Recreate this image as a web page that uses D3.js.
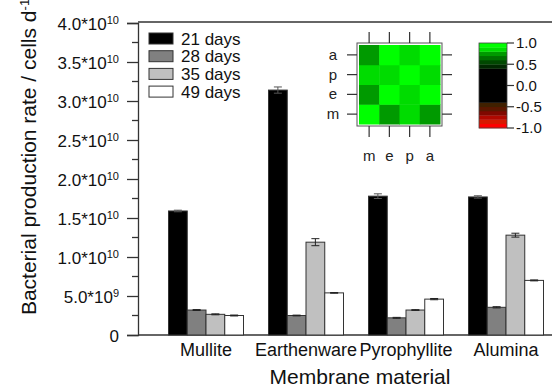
<!DOCTYPE html>
<html>
<head>
<meta charset="utf-8">
<script src="https://cdn.jsdelivr.net/npm/d3@7"></script>
<style>
  body { margin: 0; background: #fff; }
  svg { font-family: "Liberation Sans", Arial, sans-serif; }
</style>
</head>
<body>
<svg id="chart" width="552" height="392"></svg>
<script>
// bar data (cells per day)
var materials = ["Mullite", "Earthenware", "Pyrophyllite", "Alumina"];
var days = ["21 days", "28 days", "35 days", "49 days"];
var day21 = [1.59e10, 3.14e10, 1.78e10, 1.77e10];
var day28 = [0.32e10, 0.25e10, 0.22e10, 0.355e10];
var day35 = [0.265e10, 1.19e10, 0.32e10, 1.28e10];
var day49 = [0.25e10, 0.54e10, 0.46e10, 0.70e10];
var err21 = [0.01e10, 0.04e10, 0.03e10, 0.015e10];
var err28 = [0.006e10, 0.005e10, 0.006e10, 0.008e10];
var err35 = [0.006e10, 0.045e10, 0.005e10, 0.025e10];
var err49 = [0.006e10, 0.004e10, 0.008e10, 0.006e10];
var yTicks = [0, 5e9, 1e10, 1.5e10, 2e10, 2.5e10, 3e10, 3.5e10, 4e10];

// inset correlation matrix
var corrVars = ["m", "e", "p", "a"];
var corrM = [1.00, 0.75, 0.85, 0.75];
var corrE = [0.75, 1.00, 0.85, 0.95];
var corrP = [0.85, 0.85, 1.00, 0.85];
var corrA = [0.75, 0.95, 0.85, 1.00];
var barTicks = [1.0, 0.5, 0.0, -0.5, -1.0];

var series = [day21, day28, day35, day49];
var errs = [err21, err28, err35, err49];
var fills = ["#000000", "#808080", "#c0c0c0", "#ffffff"];
var axisCol = "#333";

var svg = d3.select("#chart");

var plotL = 138, plotT = 23, plotB = 335, plotR = 552;

var x0 = d3.scaleBand().domain(materials).range([156, 556])
    .paddingInner(0.25).paddingOuter(0.125);
var x1 = d3.scaleBand().domain(days).range([0, x0.bandwidth()]);
var y = d3.scaleLinear().domain([0, 4e10]).range([plotB, plotT]);

// frame lines
svg.append("line").attr("x1", plotL).attr("x2", plotR).attr("y1", y(4e10) - 1).attr("y2", y(4e10) - 1)
  .attr("stroke", axisCol).attr("stroke-width", 1.3);
svg.append("line").attr("x1", plotL).attr("x2", plotR).attr("y1", plotB).attr("y2", plotB)
  .attr("stroke", axisCol).attr("stroke-width", 1.3);

// y axis
var yAxis = svg.append("g").attr("transform", "translate(" + plotL + ",0)")
  .call(d3.axisLeft(y).tickValues(yTicks).tickSize(11).tickPadding(7).tickFormat(""));
yAxis.select(".domain").attr("stroke", axisCol).attr("stroke-width", 1.3);
yAxis.selectAll(".tick line").attr("stroke", axisCol).attr("stroke-width", 1.3);

// minor ticks
svg.append("g").selectAll("line")
  .data(d3.range(2.5e9, 4e10, 5e9))
  .enter().append("line")
    .attr("x1", plotL - 6).attr("x2", plotL)
    .attr("y1", function(d) { return y(d); }).attr("y2", function(d) { return y(d); })
    .attr("stroke", axisCol).attr("stroke-width", 1.3);

// y tick labels with superscripts
yAxis.selectAll(".tick").each(function(d) {
  var t = d3.select(this).append("text")
    .attr("x", -19).attr("dy", "0.36em")
    .attr("text-anchor", "end")
    .attr("fill", "#111")
    .style("font-size", "17px");
  if (d === 0) { t.text("0"); return; }
  var e = Math.floor(Math.log10(d) + 1e-9);
  var m = d / Math.pow(10, e);
  t.append("tspan").text(m.toFixed(1) + "*10");
  t.append("tspan").attr("dy", "-0.55em").style("font-size", "11px").text(e);
});

// bars
var groups = svg.append("g").selectAll("g")
  .data(materials)
  .enter().append("g")
    .attr("transform", function(d) { return "translate(" + x0(d) + ",0)"; });

groups.each(function(mat, i) {
  var g = d3.select(this);
  days.forEach(function(day, k) {
    var v = series[k][i], e = errs[k][i];
    g.append("rect")
      .attr("x", x1(day)).attr("width", x1.bandwidth())
      .attr("y", y(v)).attr("height", plotB - y(v))
      .attr("fill", fills[k])
      .attr("stroke", "#333").attr("stroke-width", 1);
    var cx = x1(day) + x1.bandwidth() / 2;
    var ec = k === 0 ? "#555" : "#222";
    g.append("line").attr("x1", cx).attr("x2", cx).attr("y1", y(v + e)).attr("y2", y(v - e))
      .attr("stroke", ec).attr("stroke-width", 1);
    [v + e, v - e].forEach(function(w) {
      g.append("line").attr("x1", cx - 4).attr("x2", cx + 4).attr("y1", y(w)).attr("y2", y(w))
        .attr("stroke", ec).attr("stroke-width", 1);
    });
  });
});

// x labels
svg.append("g").selectAll("text")
  .data(materials)
  .enter().append("text")
    .attr("x", function(d) { return x0(d) + x0.bandwidth() / 2; })
    .attr("y", 356)
    .attr("text-anchor", "middle")
    .attr("fill", "#111")
    .style("font-size", "18px")
    .text(function(d) { return d; });

svg.append("text")
  .attr("x", 360).attr("y", 384)
  .attr("text-anchor", "middle")
  .attr("fill", "#111")
  .style("font-size", "21px")
  .text("Membrane material");

// y title
var yt = svg.append("text")
  .attr("transform", "translate(36,157) rotate(-90)")
  .attr("text-anchor", "middle")
  .attr("fill", "#111")
  .style("font-size", "21px");
yt.append("tspan").text("Bacterial production rate / cells d");
yt.append("tspan").attr("dy", "-0.55em").style("font-size", "13px").text("-1");

// legend
var leg = svg.append("g").attr("transform", "translate(149,33)");
days.forEach(function(d, k) {
  var row = leg.append("g").attr("transform", "translate(0," + (k * 17.7) + ")");
  row.append("rect").attr("width", 24).attr("height", 11)
    .attr("fill", fills[k]).attr("stroke", "#333").attr("stroke-width", 1);
  row.append("text").attr("x", 32).attr("y", 5.5).attr("dy", "0.36em")
    .attr("fill", "#111").style("font-size", "17px").text(d);
});

// inset heatmap
var corr = [corrM, corrE, corrP, corrA];
var bandEdges = [-0.9, -0.8, -0.7, -0.6, -0.5, -0.4, 0.4, 0.5, 0.6, 0.7, 0.8, 0.9];
var colorBands = d3.scaleThreshold()
  .domain(bandEdges)
  .range(["#ff0000", "#d81800", "#b00800", "#800800", "#5a1800", "#402000", "#000000",
          "#002800", "#004800", "#007000", "#009a00", "#00dc00", "#00ff00"]);

var hx = d3.scaleBand().domain(corrVars).range([359, 440]);
var hy = d3.scaleBand().domain(corrVars.slice().reverse()).range([45, 124]);
var hm = svg.append("g");
hm.append("rect").attr("x", 357).attr("y", 43).attr("width", 85).attr("height", 83)
  .attr("fill", "#fff").attr("stroke", "#555").attr("stroke-width", 1);
corrVars.forEach(function(r, i) {
  corrVars.forEach(function(c, j) {
    hm.append("rect")
      .attr("x", hx(c)).attr("y", hy(r))
      .attr("width", hx.bandwidth() + 0.5).attr("height", hy.bandwidth() + 0.5)
      .attr("fill", colorBands(corr[i][j]));
  });
});
corrVars.forEach(function(v) {
  var cx = hx(v) + hx.bandwidth() / 2, cy = hy(v) + hy.bandwidth() / 2;
  hm.append("line").attr("x1", cx).attr("x2", cx).attr("y1", 43).attr("y2", 32).attr("stroke", axisCol).attr("stroke-width", 1.2);
  hm.append("line").attr("x1", cx).attr("x2", cx).attr("y1", 126).attr("y2", 137).attr("stroke", axisCol).attr("stroke-width", 1.2);
  hm.append("line").attr("x1", 357).attr("x2", 347).attr("y1", cy).attr("y2", cy).attr("stroke", axisCol).attr("stroke-width", 1.2);
  hm.append("line").attr("x1", 442).attr("x2", 452).attr("y1", cy).attr("y2", cy).attr("stroke", axisCol).attr("stroke-width", 1.2);
  hm.append("text").attr("x", 333).attr("y", cy).attr("dy", "0.33em").attr("text-anchor", "middle")
    .attr("fill", "#222").style("font-size", "15px").text(v);
  hm.append("text").attr("x", cx).attr("y", 161).attr("text-anchor", "middle")
    .attr("fill", "#222").style("font-size", "15px").text(v);
});

// colour bar: one rect per band between thresholds
var cb = d3.scaleLinear().domain([-1, 1]).range([128, 43]);
var edges = [-1].concat(bandEdges, [1]);
var cbg = svg.append("g");
for (var b = 0; b < edges.length - 1; b++) {
  var lo = edges[b], hi = edges[b + 1];
  cbg.append("rect").attr("x", 479).attr("width", 28)
    .attr("y", cb(hi)).attr("height", cb(lo) - cb(hi) + 0.3)
    .attr("fill", colorBands((lo + hi) / 2));
}
cbg.append("rect").attr("x", 479).attr("y", 43).attr("width", 28).attr("height", 85)
  .attr("fill", "none").attr("stroke", "#444").attr("stroke-width", 0.8);
barTicks.forEach(function(t) {
  cbg.append("line").attr("x1", 507).attr("x2", 514).attr("y1", cb(t)).attr("y2", cb(t))
    .attr("stroke", axisCol).attr("stroke-width", 1.2);
  cbg.append("text").attr("x", 516).attr("y", cb(t)).attr("dy", "0.36em")
    .attr("fill", "#111").style("font-size", "15px").text(t.toFixed(1));
});
</script>
</body>
</html>
